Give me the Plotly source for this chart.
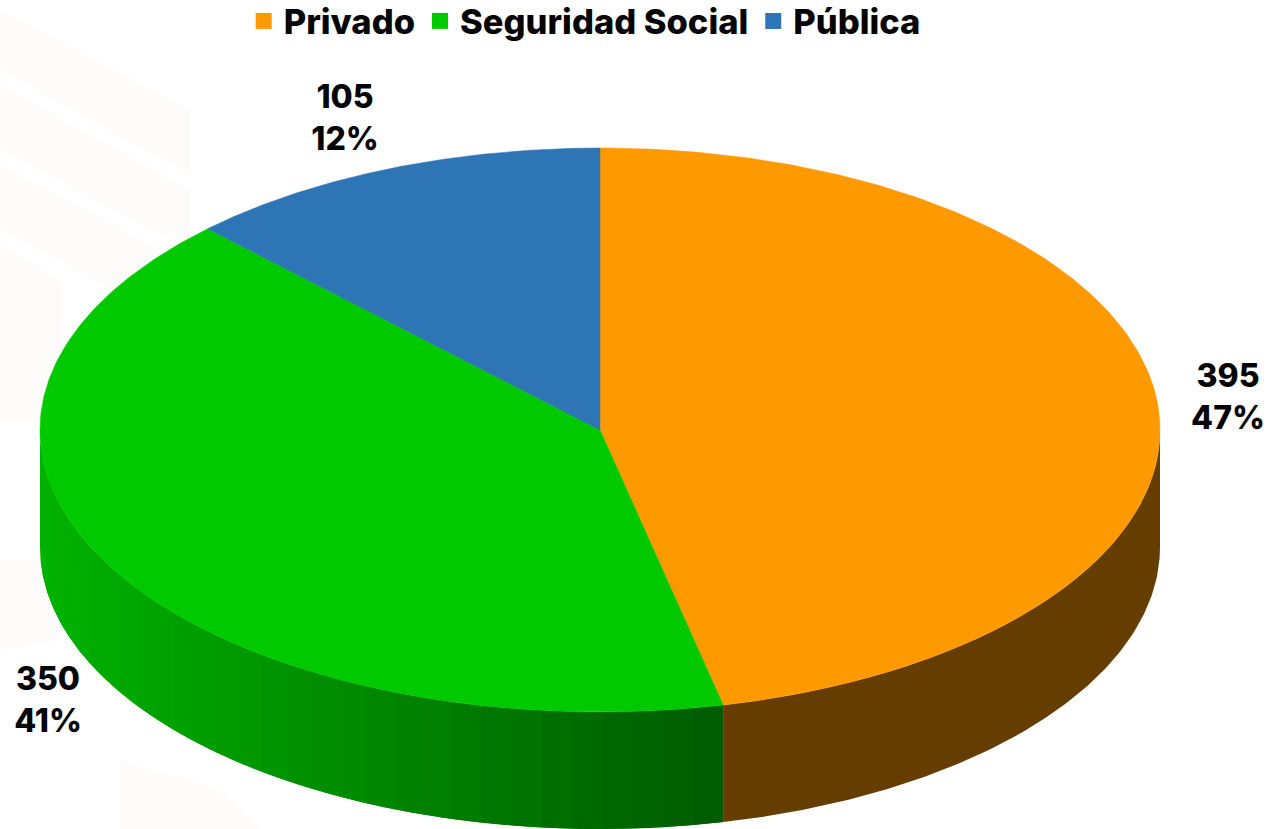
import numpy as np
import plotly.graph_objects as go

# Data
categories = ["Privado", "Seguridad Social", "Pública"]
values = [395, 350, 105]
percent_labels = ["47%", "41%", "12%"]

# Styling
top_colors = ["#fe9a00", "#00c900", "#2e75b5"]
FONT = "Inter"
CX, CY, RX, RY, DEPTH = 600, 430, 560, 282, 117
label_pos = [(1228, 400), (48, 703), (345, 121)]
W, H = 1271, 829

fractions = np.cumsum([0] + values) / sum(values)
angles = fractions * 2 * np.pi


def px(t):
    return CX + RX * np.sin(t)


def py(t, drop=0):
    return CY - RY * np.cos(t) + drop


def green_side(x):
    f = (x - 40) / (722 - 40)
    return f"rgb(0,{int(round(178 - 88 * f))},0)"


def wall(t, color):
    return go.Scatter(x=np.r_[px(t), px(t[::-1])], y=np.r_[py(t), py(t[::-1], DEPTH)],
                      mode="lines", fill="toself", fillcolor=color,
                      line=dict(color=color, width=0), hoverinfo="skip", showlegend=False)


fig = go.Figure()

# Side walls: only the front half of the disc (90 to 270 degrees) is visible
front_start, front_end = np.pi / 2, 3 * np.pi / 2
for i, (a0, a1) in enumerate(zip(angles[:-1], angles[1:])):
    lo, hi = max(a0, front_start), min(a1, front_end)
    if hi <= lo:
        continue
    if i == 0:  # flat brown wall
        fig.add_trace(wall(np.linspace(lo, hi, 120), "#663d00"))
    else:  # wall shaded in bands; each band runs under the next to hide seams
        edges = np.linspace(hi, lo, 34)
        for k in range(len(edges) - 1):
            end = edges[min(k + 2, len(edges) - 1)]
            c = green_side(px((edges[k] + edges[k + 1]) / 2))
            fig.add_trace(wall(np.linspace(edges[k], end, 30), c))

# Top face
for name, color, a0, a1 in zip(categories, top_colors, angles[:-1], angles[1:]):
    t = np.linspace(a0, a1, 240)
    fig.add_trace(go.Scatter(x=np.r_[CX, px(t), CX], y=np.r_[CY, py(t), CY],
                             mode="lines", fill="toself", fillcolor=color,
                             line=dict(color=color, width=0.5), legendgroup=name,
                             name=name, hoverinfo="name", showlegend=False))

# Legend entries
for name, color in zip(categories, top_colors):
    fig.add_trace(go.Scatter(x=[None], y=[None], mode="markers", name=name, legendgroup=name,
                             marker=dict(symbol="square", size=18, color=color)))

# Value labels
fig.add_trace(go.Scatter(
    x=[p[0] for p in label_pos], y=[p[1] for p in label_pos], mode="text",
    text=[f"{v}<br>{p}" for v, p in zip(values, percent_labels)],
    textposition="middle center",
    textfont=dict(family=FONT, size=32, color="#050505", weight=800),
    hoverinfo="skip", showlegend=False))

# Faint watermark in the background
bands = [
    "M0,10 L190,110 L190,175 L0,70 Z",
    "M0,85 L190,190 L190,250 L0,150 Z",
    "M0,165 L190,265 L190,330 L0,230 Z",
    "M0,245 L60,280 L60,420 L0,420 Z",
    "M0,560 L40,560 L60,640 L0,650 Z",
    "M120,760 L220,790 L260,829 L120,829 Z",
]
shapes = [dict(type="path", path=p, fillcolor="#fdfcfa", line_width=0, layer="below",
               xref="x", yref="y") for p in bands]

fig.update_layout(
    width=W, height=H, margin=dict(l=0, r=0, t=0, b=0, autoexpand=False),
    paper_bgcolor="white", plot_bgcolor="rgba(0,0,0,0)",
    xaxis=dict(range=[0, W], visible=False, fixedrange=True),
    yaxis=dict(range=[H, 0], visible=False, fixedrange=True),
    shapes=shapes,
    legend=dict(orientation="h", x=0.46, xanchor="center", y=1.0097, yanchor="top",
                font=dict(family=FONT, size=34.5, color="#050505", weight=800),
                bgcolor="rgba(0,0,0,0)"),
)

fig.write_html("out.html", config=dict(displayModeBar=False),
               post_script="document.body.style.margin='0';")
